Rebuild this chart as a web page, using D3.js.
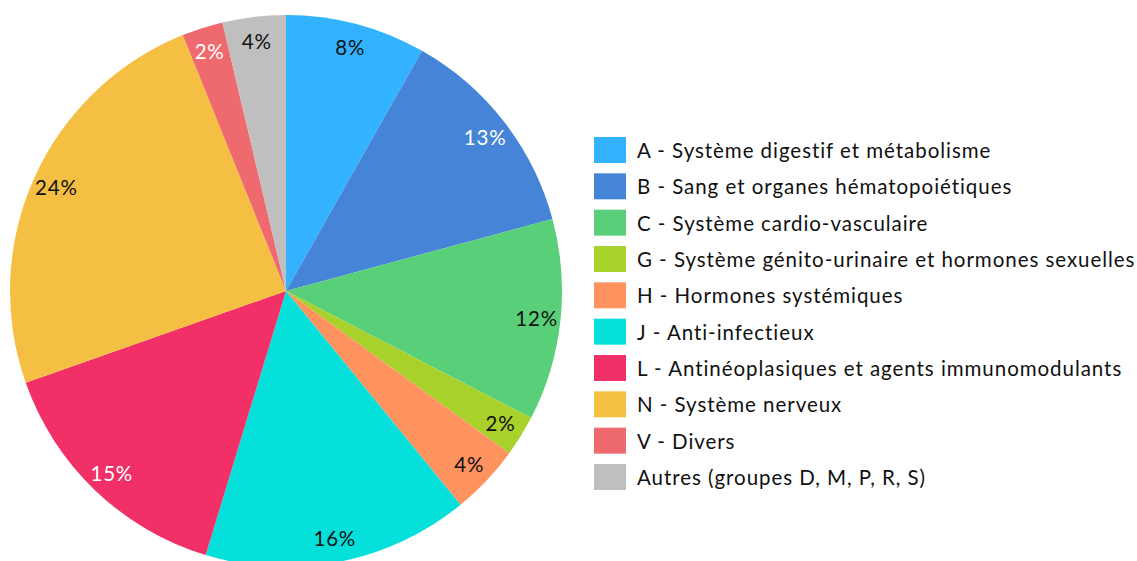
<!DOCTYPE html>
<html><head><meta charset="utf-8">
<script src="https://cdn.jsdelivr.net/npm/d3@7"></script>
<style>body{margin:0;background:#fff}svg{display:block}text{font-family:Lato,"Open Sans",sans-serif}</style>
</head><body>
<svg id="c" width="1137" height="561"></svg>
<script>
const categories = ["A - Système digestif et métabolisme","B - Sang et organes hématopoiétiques","C - Système cardio-vasculaire","G - Système génito-urinaire et hormones sexuelles","H - Hormones systémiques","J - Anti-infectieux","L - Antinéoplasiques et agents immunomodulants","N - Système nerveux","V - Divers","Autres (groupes D, M, P, R, S)"];
const values = [8.2,12.6,11.8,2.4,4.1,15.6,14.9,24.3,2.4,3.7];
const colors = ["#33B3FF","#4584D6","#5ACF7A","#A8D12C","#FF935F","#05E0DA","#F03066","#F4BF42","#EE6A6E","#BFBFBF"];
const labelColors = ["#111","#fff","#111","#111","#111","#111","#fff","#111","#fff","#111"];

const svg = d3.select("#c");
const cx = 286, cy = 291, R = 276, LR = 252;
const data = categories.map((c,i)=>({name:c,value:values[i],color:colors[i],lc:labelColors[i]}));
const total = d3.sum(values);
const pie = d3.pie().value(d=>d.value).sort(null);
const arcs = pie(data);
const arc = d3.arc().innerRadius(0).outerRadius(R);
const larc = d3.arc().innerRadius(LR).outerRadius(LR);
const g = svg.append("g").attr("transform",`translate(${cx},${cy})`);
g.selectAll("path").data(arcs).join("path").attr("d",arc).attr("fill",d=>d.data.color);
g.selectAll("text").data(arcs).join("text")
  .attr("transform",d=>`translate(${larc.centroid(d)})`)
  .attr("text-anchor","middle").attr("dominant-baseline","central")
  .attr("font-size",20.5).attr("letter-spacing",0.8).attr("fill",d=>d.data.lc)
  .text(d=>Math.round(d.data.value/total*100)+"%");

const y = d3.scalePoint().domain(categories).range([150,477]);
const lg = svg.append("g");
const item = lg.selectAll("g").data(data).join("g").attr("transform",d=>`translate(594,${y(d.name)})`);
item.append("rect").attr("x",0).attr("y",-13).attr("width",32).attr("height",26).attr("fill",d=>d.color);
item.append("text").attr("x",43).attr("y",0).attr("dominant-baseline","central").attr("font-size",20.5).attr("letter-spacing",0.95).attr("fill","#111").text(d=>d.name);
</script>
</body></html>
